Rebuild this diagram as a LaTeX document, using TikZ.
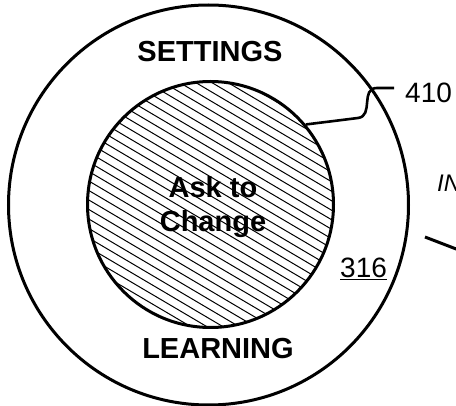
\documentclass[tikz,border=0pt]{standalone}
\usepackage{fontspec}
\setmainfont{Liberation Sans}

\tikzset{
    ring/.style={circle, draw, line width=3pt, inner sep=0pt},
    bigword/.style={font=\fontsize{29}{34}\selectfont\bfseries},
    refnum/.style={font=\fontsize{28}{32}\selectfont, inner sep=0pt},
    lead/.style={line width=2.6pt}
}

\begin{document}
\begin{tikzpicture}[x=1pt,y=-1pt]
\clip (0,0) rectangle (456,406);

% Circles
\node[ring, minimum size=400pt] (outer) at (208.5,205) {};
\node[ring, minimum size=246pt] (inner) at (210.5,204.5) {};

% Hatching of the inner circle
\begin{scope}
    \clip (inner.center) circle (122);
    \foreach \y in {-140,-130.5,...,300} {
        \draw[line width=1pt] (60,\y) -- ++(300,177);
    }
\end{scope}

% Texts
\node[bigword, anchor=base] (settings) at (210,62) {SETTINGS};
\node[bigword, anchor=base] (learning) at (218,359) {LEARNING};
\node[bigword, align=center] (ask) at (213,207) {Ask to\\Change};

% Reference numbers
\node[refnum, anchor=base west] (lbl410) at (405,103) {410};
\node[refnum, anchor=base west] (lbl316) at (340,278) {\underline{316}};
\node[refnum, anchor=base west, font=\fontsize{24}{28}\selectfont\itshape] (lblin) at (437,192) {IN};

% Leader to 410
\coordinate (t410) at (394,88);
\draw[lead] (inner.40) -- (358,118) .. controls (374,116) and (360,88) .. (377,88) -- (t410);

% Connector leaving to the right
\coordinate (c1) at (425,237);
\coordinate (c2) at (490,262);
\draw[line width=3pt] (c1) -- (c2);
\end{tikzpicture}
\end{document}
